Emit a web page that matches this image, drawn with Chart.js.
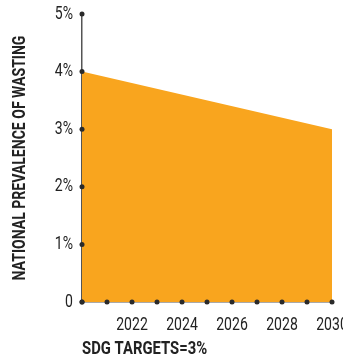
<!DOCTYPE html>
<html>
<head>
<meta charset="utf-8">
<script src="https://cdn.jsdelivr.net/npm/chart.js@4/dist/chart.umd.min.js"></script>
<style>
html,body{margin:0;padding:0;background:#fff;}
#wrap{width:343px;height:362px;}
</style>
</head>
<body>
<div id="wrap"><canvas id="c" width="343" height="362"></canvas></div>
<script>
const years = [2020, 2030];
const prevalence = [4, 3];
const yTicks = [0, 1, 2, 3, 4, 5];
const xLabelYears = [2022, 2024, 2026, 2028, 2030];
const yTitle = 'NATIONAL PREVALENCE OF WASTING';
const xTitle = 'SDG TARGETS=3%';

const FONT = 'Roboto, "Liberation Sans", sans-serif';
const SQUEEZE = 0.78; // condensed look: text drawn narrower horizontally

// Make canvas text look condensed (still real text via fillText)
const origFill = CanvasRenderingContext2D.prototype.fillText;
CanvasRenderingContext2D.prototype.fillText = function (t, x, y, mw) {
  const w = this.measureText(t).width * SQUEEZE;
  return origFill.call(this, t, x, y, mw === undefined ? w : Math.min(w, mw));
};

const points = years.map((y, i) => ({x: y, y: prevalence[i]}));

const dotPlugin = {
  id: 'axisDots',
  afterDatasetsDraw(chart) {
    const ctx = chart.ctx;
    const xs = chart.scales.x, ys = chart.scales.y;
    ctx.save();
    ctx.fillStyle = '#2a2a2a';
    const y0 = ys.getPixelForValue(0);
    const x0 = xs.getPixelForValue(years[0]);
    xs.ticks.forEach(t => {
      ctx.beginPath();
      ctx.arc(xs.getPixelForValue(t.value), y0, 2.5, 0, Math.PI * 2);
      ctx.fill();
    });
    ys.ticks.forEach(t => {
      ctx.beginPath();
      ctx.arc(x0, ys.getPixelForValue(t.value), 2.5, 0, Math.PI * 2);
      ctx.fill();
    });
    ctx.restore();
  }
};

new Chart(document.getElementById('c'), {
  type: 'line',
  data: {
    datasets: [{
      data: points,
      fill: 'origin',
      backgroundColor: '#F9A51E',
      borderColor: '#F9A51E',
      borderWidth: 0,
      pointRadius: 0,
      tension: 0
    }]
  },
  options: {
    responsive: false,
    animation: false,
    devicePixelRatio: 1,
    layout: {padding: {top: 14, right: 11, left: 0, bottom: 0}},
    plugins: {legend: {display: false}, tooltip: {enabled: false}},
    scales: {
      x: {
        type: 'linear',
        min: years[0], max: years[1],
        grid: {display: false, drawTicks: false},
        border: {display: true, color: '#555', width: 1.5},
        ticks: {
          stepSize: 1,
          autoSkip: false,
          maxRotation: 0,
          padding: 13,
          color: '#222',
          font: {family: FONT, size: 18},
          callback: v => xLabelYears.includes(v) ? String(v) : ''
        },
        title: {
          display: true, text: xTitle, align: 'start',
          color: '#222', font: {family: FONT, size: 19, weight: 'bold'},
          padding: {top: 0, bottom: 1}
        },
        afterFit(s) { s.height = 60; s.paddingLeft = 0; s.paddingRight = 0; }
      },
      y: {
        min: 0, max: 5,
        grid: {display: false, drawTicks: false},
        border: {display: true, color: '#555', width: 1.5},
        afterBuildTicks(s) { s.ticks = yTicks.map(v => ({value: v})); },
        ticks: {
          padding: 9,
          color: '#222',
          font: {family: FONT, size: 18},
          callback: v => v === 0 ? '0' : v + '%'
        },
        title: {
          display: true, text: yTitle,
          color: '#222', font: {family: FONT, size: 18, weight: 'bold'},
          padding: {top: 10, bottom: 0}
        },
        afterFit(s) { s.width = 82; s.paddingTop = 0; s.paddingBottom = 0; }
      }
    }
  },
  plugins: [dotPlugin]
});
</script>
</body>
</html>
